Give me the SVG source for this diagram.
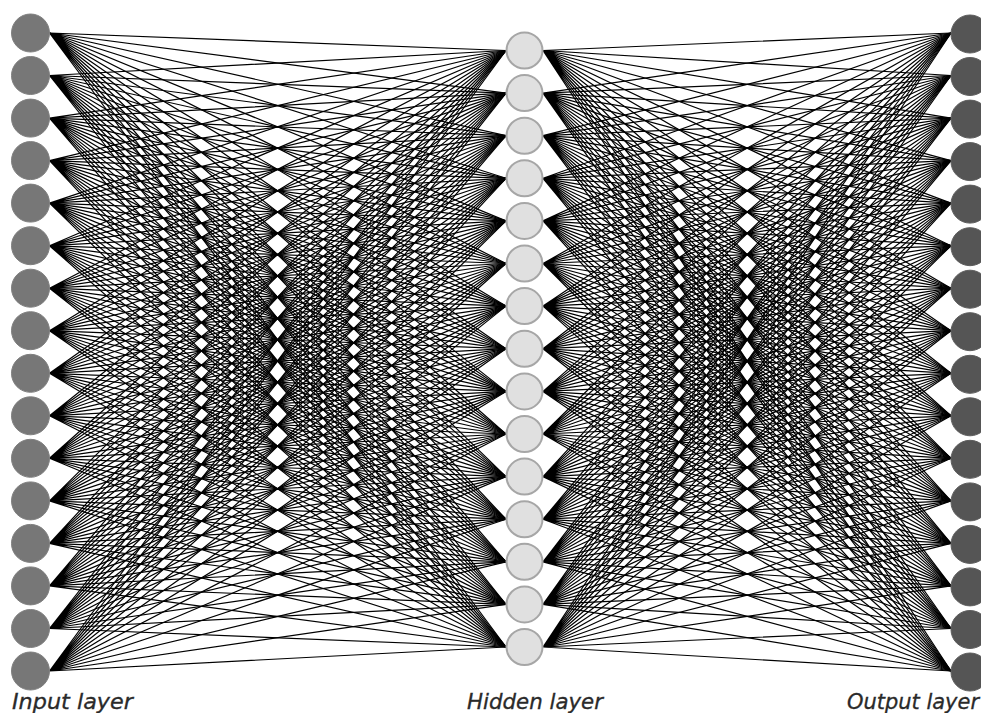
<svg xmlns="http://www.w3.org/2000/svg" width="981" height="713" viewBox="0 0 981 713">
<style>
.e{fill:none;stroke:#000;stroke-width:1.2}
.in{fill:#777;stroke:#808080;stroke-width:1}
.hid{fill:#e0e0e0;stroke:#a6a6a6;stroke-width:2}
.out{fill:#555;stroke:#5e5e5e;stroke-width:1}
.lbl{font-family:"DejaVu Sans","Liberation Sans",sans-serif;font-style:italic;font-size:21px;fill:#2a2a2a;stroke:#2a2a2a;stroke-width:0.3}
</style>
<rect width="981" height="713" fill="#fff"/>
<g id="connectors">
<path class="e" d="M49.5 33L506 50.5M49.5 33L506 93.1M49.5 33L506 135.7M49.5 33L506 178.3M49.5 33L506 220.9M49.5 33L506 263.5M49.5 33L506 306.1M49.5 33L506 348.7M49.5 33L506 391.4M49.5 33L506 434M49.5 33L506 476.6M49.5 33L506 519.2M49.5 33L506 561.8M49.5 33L506 604.4M49.5 33L506 647"/>
<path class="e" d="M49.5 75.5L506 50.5M49.5 75.5L506 93.1M49.5 75.5L506 135.7M49.5 75.5L506 178.3M49.5 75.5L506 220.9M49.5 75.5L506 263.5M49.5 75.5L506 306.1M49.5 75.5L506 348.7M49.5 75.5L506 391.4M49.5 75.5L506 434M49.5 75.5L506 476.6M49.5 75.5L506 519.2M49.5 75.5L506 561.8M49.5 75.5L506 604.4M49.5 75.5L506 647"/>
<path class="e" d="M49.5 118.1L506 50.5M49.5 118.1L506 93.1M49.5 118.1L506 135.7M49.5 118.1L506 178.3M49.5 118.1L506 220.9M49.5 118.1L506 263.5M49.5 118.1L506 306.1M49.5 118.1L506 348.7M49.5 118.1L506 391.4M49.5 118.1L506 434M49.5 118.1L506 476.6M49.5 118.1L506 519.2M49.5 118.1L506 561.8M49.5 118.1L506 604.4M49.5 118.1L506 647"/>
<path class="e" d="M49.5 160.6L506 50.5M49.5 160.6L506 93.1M49.5 160.6L506 135.7M49.5 160.6L506 178.3M49.5 160.6L506 220.9M49.5 160.6L506 263.5M49.5 160.6L506 306.1M49.5 160.6L506 348.7M49.5 160.6L506 391.4M49.5 160.6L506 434M49.5 160.6L506 476.6M49.5 160.6L506 519.2M49.5 160.6L506 561.8M49.5 160.6L506 604.4M49.5 160.6L506 647"/>
<path class="e" d="M49.5 203.1L506 50.5M49.5 203.1L506 93.1M49.5 203.1L506 135.7M49.5 203.1L506 178.3M49.5 203.1L506 220.9M49.5 203.1L506 263.5M49.5 203.1L506 306.1M49.5 203.1L506 348.7M49.5 203.1L506 391.4M49.5 203.1L506 434M49.5 203.1L506 476.6M49.5 203.1L506 519.2M49.5 203.1L506 561.8M49.5 203.1L506 604.4M49.5 203.1L506 647"/>
<path class="e" d="M49.5 245.7L506 50.5M49.5 245.7L506 93.1M49.5 245.7L506 135.7M49.5 245.7L506 178.3M49.5 245.7L506 220.9M49.5 245.7L506 263.5M49.5 245.7L506 306.1M49.5 245.7L506 348.7M49.5 245.7L506 391.4M49.5 245.7L506 434M49.5 245.7L506 476.6M49.5 245.7L506 519.2M49.5 245.7L506 561.8M49.5 245.7L506 604.4M49.5 245.7L506 647"/>
<path class="e" d="M49.5 288.2L506 50.5M49.5 288.2L506 93.1M49.5 288.2L506 135.7M49.5 288.2L506 178.3M49.5 288.2L506 220.9M49.5 288.2L506 263.5M49.5 288.2L506 306.1M49.5 288.2L506 348.7M49.5 288.2L506 391.4M49.5 288.2L506 434M49.5 288.2L506 476.6M49.5 288.2L506 519.2M49.5 288.2L506 561.8M49.5 288.2L506 604.4M49.5 288.2L506 647"/>
<path class="e" d="M49.5 330.7L506 50.5M49.5 330.7L506 93.1M49.5 330.7L506 135.7M49.5 330.7L506 178.3M49.5 330.7L506 220.9M49.5 330.7L506 263.5M49.5 330.7L506 306.1M49.5 330.7L506 348.7M49.5 330.7L506 391.4M49.5 330.7L506 434M49.5 330.7L506 476.6M49.5 330.7L506 519.2M49.5 330.7L506 561.8M49.5 330.7L506 604.4M49.5 330.7L506 647"/>
<path class="e" d="M49.5 373.3L506 50.5M49.5 373.3L506 93.1M49.5 373.3L506 135.7M49.5 373.3L506 178.3M49.5 373.3L506 220.9M49.5 373.3L506 263.5M49.5 373.3L506 306.1M49.5 373.3L506 348.7M49.5 373.3L506 391.4M49.5 373.3L506 434M49.5 373.3L506 476.6M49.5 373.3L506 519.2M49.5 373.3L506 561.8M49.5 373.3L506 604.4M49.5 373.3L506 647"/>
<path class="e" d="M49.5 415.8L506 50.5M49.5 415.8L506 93.1M49.5 415.8L506 135.7M49.5 415.8L506 178.3M49.5 415.8L506 220.9M49.5 415.8L506 263.5M49.5 415.8L506 306.1M49.5 415.8L506 348.7M49.5 415.8L506 391.4M49.5 415.8L506 434M49.5 415.8L506 476.6M49.5 415.8L506 519.2M49.5 415.8L506 561.8M49.5 415.8L506 604.4M49.5 415.8L506 647"/>
<path class="e" d="M49.5 458.3L506 50.5M49.5 458.3L506 93.1M49.5 458.3L506 135.7M49.5 458.3L506 178.3M49.5 458.3L506 220.9M49.5 458.3L506 263.5M49.5 458.3L506 306.1M49.5 458.3L506 348.7M49.5 458.3L506 391.4M49.5 458.3L506 434M49.5 458.3L506 476.6M49.5 458.3L506 519.2M49.5 458.3L506 561.8M49.5 458.3L506 604.4M49.5 458.3L506 647"/>
<path class="e" d="M49.5 500.9L506 50.5M49.5 500.9L506 93.1M49.5 500.9L506 135.7M49.5 500.9L506 178.3M49.5 500.9L506 220.9M49.5 500.9L506 263.5M49.5 500.9L506 306.1M49.5 500.9L506 348.7M49.5 500.9L506 391.4M49.5 500.9L506 434M49.5 500.9L506 476.6M49.5 500.9L506 519.2M49.5 500.9L506 561.8M49.5 500.9L506 604.4M49.5 500.9L506 647"/>
<path class="e" d="M49.5 543.4L506 50.5M49.5 543.4L506 93.1M49.5 543.4L506 135.7M49.5 543.4L506 178.3M49.5 543.4L506 220.9M49.5 543.4L506 263.5M49.5 543.4L506 306.1M49.5 543.4L506 348.7M49.5 543.4L506 391.4M49.5 543.4L506 434M49.5 543.4L506 476.6M49.5 543.4L506 519.2M49.5 543.4L506 561.8M49.5 543.4L506 604.4M49.5 543.4L506 647"/>
<path class="e" d="M49.5 585.9L506 50.5M49.5 585.9L506 93.1M49.5 585.9L506 135.7M49.5 585.9L506 178.3M49.5 585.9L506 220.9M49.5 585.9L506 263.5M49.5 585.9L506 306.1M49.5 585.9L506 348.7M49.5 585.9L506 391.4M49.5 585.9L506 434M49.5 585.9L506 476.6M49.5 585.9L506 519.2M49.5 585.9L506 561.8M49.5 585.9L506 604.4M49.5 585.9L506 647"/>
<path class="e" d="M49.5 628.5L506 50.5M49.5 628.5L506 93.1M49.5 628.5L506 135.7M49.5 628.5L506 178.3M49.5 628.5L506 220.9M49.5 628.5L506 263.5M49.5 628.5L506 306.1M49.5 628.5L506 348.7M49.5 628.5L506 391.4M49.5 628.5L506 434M49.5 628.5L506 476.6M49.5 628.5L506 519.2M49.5 628.5L506 561.8M49.5 628.5L506 604.4M49.5 628.5L506 647"/>
<path class="e" d="M49.5 671L506 50.5M49.5 671L506 93.1M49.5 671L506 135.7M49.5 671L506 178.3M49.5 671L506 220.9M49.5 671L506 263.5M49.5 671L506 306.1M49.5 671L506 348.7M49.5 671L506 391.4M49.5 671L506 434M49.5 671L506 476.6M49.5 671L506 519.2M49.5 671L506 561.8M49.5 671L506 604.4M49.5 671L506 647"/>
<path class="e" d="M543 50.5L951 33M543 50.5L951 75.5M543 50.5L951 118.1M543 50.5L951 160.6M543 50.5L951 203.1M543 50.5L951 245.7M543 50.5L951 288.2M543 50.5L951 330.7M543 50.5L951 373.3M543 50.5L951 415.8M543 50.5L951 458.3M543 50.5L951 500.9M543 50.5L951 543.4M543 50.5L951 585.9M543 50.5L951 628.5M543 50.5L951 671"/>
<path class="e" d="M543 93.1L951 33M543 93.1L951 75.5M543 93.1L951 118.1M543 93.1L951 160.6M543 93.1L951 203.1M543 93.1L951 245.7M543 93.1L951 288.2M543 93.1L951 330.7M543 93.1L951 373.3M543 93.1L951 415.8M543 93.1L951 458.3M543 93.1L951 500.9M543 93.1L951 543.4M543 93.1L951 585.9M543 93.1L951 628.5M543 93.1L951 671"/>
<path class="e" d="M543 135.7L951 33M543 135.7L951 75.5M543 135.7L951 118.1M543 135.7L951 160.6M543 135.7L951 203.1M543 135.7L951 245.7M543 135.7L951 288.2M543 135.7L951 330.7M543 135.7L951 373.3M543 135.7L951 415.8M543 135.7L951 458.3M543 135.7L951 500.9M543 135.7L951 543.4M543 135.7L951 585.9M543 135.7L951 628.5M543 135.7L951 671"/>
<path class="e" d="M543 178.3L951 33M543 178.3L951 75.5M543 178.3L951 118.1M543 178.3L951 160.6M543 178.3L951 203.1M543 178.3L951 245.7M543 178.3L951 288.2M543 178.3L951 330.7M543 178.3L951 373.3M543 178.3L951 415.8M543 178.3L951 458.3M543 178.3L951 500.9M543 178.3L951 543.4M543 178.3L951 585.9M543 178.3L951 628.5M543 178.3L951 671"/>
<path class="e" d="M543 220.9L951 33M543 220.9L951 75.5M543 220.9L951 118.1M543 220.9L951 160.6M543 220.9L951 203.1M543 220.9L951 245.7M543 220.9L951 288.2M543 220.9L951 330.7M543 220.9L951 373.3M543 220.9L951 415.8M543 220.9L951 458.3M543 220.9L951 500.9M543 220.9L951 543.4M543 220.9L951 585.9M543 220.9L951 628.5M543 220.9L951 671"/>
<path class="e" d="M543 263.5L951 33M543 263.5L951 75.5M543 263.5L951 118.1M543 263.5L951 160.6M543 263.5L951 203.1M543 263.5L951 245.7M543 263.5L951 288.2M543 263.5L951 330.7M543 263.5L951 373.3M543 263.5L951 415.8M543 263.5L951 458.3M543 263.5L951 500.9M543 263.5L951 543.4M543 263.5L951 585.9M543 263.5L951 628.5M543 263.5L951 671"/>
<path class="e" d="M543 306.1L951 33M543 306.1L951 75.5M543 306.1L951 118.1M543 306.1L951 160.6M543 306.1L951 203.1M543 306.1L951 245.7M543 306.1L951 288.2M543 306.1L951 330.7M543 306.1L951 373.3M543 306.1L951 415.8M543 306.1L951 458.3M543 306.1L951 500.9M543 306.1L951 543.4M543 306.1L951 585.9M543 306.1L951 628.5M543 306.1L951 671"/>
<path class="e" d="M543 348.7L951 33M543 348.7L951 75.5M543 348.7L951 118.1M543 348.7L951 160.6M543 348.7L951 203.1M543 348.7L951 245.7M543 348.7L951 288.2M543 348.7L951 330.7M543 348.7L951 373.3M543 348.7L951 415.8M543 348.7L951 458.3M543 348.7L951 500.9M543 348.7L951 543.4M543 348.7L951 585.9M543 348.7L951 628.5M543 348.7L951 671"/>
<path class="e" d="M543 391.4L951 33M543 391.4L951 75.5M543 391.4L951 118.1M543 391.4L951 160.6M543 391.4L951 203.1M543 391.4L951 245.7M543 391.4L951 288.2M543 391.4L951 330.7M543 391.4L951 373.3M543 391.4L951 415.8M543 391.4L951 458.3M543 391.4L951 500.9M543 391.4L951 543.4M543 391.4L951 585.9M543 391.4L951 628.5M543 391.4L951 671"/>
<path class="e" d="M543 434L951 33M543 434L951 75.5M543 434L951 118.1M543 434L951 160.6M543 434L951 203.1M543 434L951 245.7M543 434L951 288.2M543 434L951 330.7M543 434L951 373.3M543 434L951 415.8M543 434L951 458.3M543 434L951 500.9M543 434L951 543.4M543 434L951 585.9M543 434L951 628.5M543 434L951 671"/>
<path class="e" d="M543 476.6L951 33M543 476.6L951 75.5M543 476.6L951 118.1M543 476.6L951 160.6M543 476.6L951 203.1M543 476.6L951 245.7M543 476.6L951 288.2M543 476.6L951 330.7M543 476.6L951 373.3M543 476.6L951 415.8M543 476.6L951 458.3M543 476.6L951 500.9M543 476.6L951 543.4M543 476.6L951 585.9M543 476.6L951 628.5M543 476.6L951 671"/>
<path class="e" d="M543 519.2L951 33M543 519.2L951 75.5M543 519.2L951 118.1M543 519.2L951 160.6M543 519.2L951 203.1M543 519.2L951 245.7M543 519.2L951 288.2M543 519.2L951 330.7M543 519.2L951 373.3M543 519.2L951 415.8M543 519.2L951 458.3M543 519.2L951 500.9M543 519.2L951 543.4M543 519.2L951 585.9M543 519.2L951 628.5M543 519.2L951 671"/>
<path class="e" d="M543 561.8L951 33M543 561.8L951 75.5M543 561.8L951 118.1M543 561.8L951 160.6M543 561.8L951 203.1M543 561.8L951 245.7M543 561.8L951 288.2M543 561.8L951 330.7M543 561.8L951 373.3M543 561.8L951 415.8M543 561.8L951 458.3M543 561.8L951 500.9M543 561.8L951 543.4M543 561.8L951 585.9M543 561.8L951 628.5M543 561.8L951 671"/>
<path class="e" d="M543 604.4L951 33M543 604.4L951 75.5M543 604.4L951 118.1M543 604.4L951 160.6M543 604.4L951 203.1M543 604.4L951 245.7M543 604.4L951 288.2M543 604.4L951 330.7M543 604.4L951 373.3M543 604.4L951 415.8M543 604.4L951 458.3M543 604.4L951 500.9M543 604.4L951 543.4M543 604.4L951 585.9M543 604.4L951 628.5M543 604.4L951 671"/>
<path class="e" d="M543 647L951 33M543 647L951 75.5M543 647L951 118.1M543 647L951 160.6M543 647L951 203.1M543 647L951 245.7M543 647L951 288.2M543 647L951 330.7M543 647L951 373.3M543 647L951 415.8M543 647L951 458.3M543 647L951 500.9M543 647L951 543.4M543 647L951 585.9M543 647L951 628.5M543 647L951 671"/>
</g>
<g id="input-layer">
<g id="in1"><circle class="in" cx="30.5" cy="33" r="19"/></g>
<g id="in2"><circle class="in" cx="30.5" cy="75.5" r="19"/></g>
<g id="in3"><circle class="in" cx="30.5" cy="118.1" r="19"/></g>
<g id="in4"><circle class="in" cx="30.5" cy="160.6" r="19"/></g>
<g id="in5"><circle class="in" cx="30.5" cy="203.1" r="19"/></g>
<g id="in6"><circle class="in" cx="30.5" cy="245.7" r="19"/></g>
<g id="in7"><circle class="in" cx="30.5" cy="288.2" r="19"/></g>
<g id="in8"><circle class="in" cx="30.5" cy="330.7" r="19"/></g>
<g id="in9"><circle class="in" cx="30.5" cy="373.3" r="19"/></g>
<g id="in10"><circle class="in" cx="30.5" cy="415.8" r="19"/></g>
<g id="in11"><circle class="in" cx="30.5" cy="458.3" r="19"/></g>
<g id="in12"><circle class="in" cx="30.5" cy="500.9" r="19"/></g>
<g id="in13"><circle class="in" cx="30.5" cy="543.4" r="19"/></g>
<g id="in14"><circle class="in" cx="30.5" cy="585.9" r="19"/></g>
<g id="in15"><circle class="in" cx="30.5" cy="628.5" r="19"/></g>
<g id="in16"><circle class="in" cx="30.5" cy="671" r="19"/></g>
</g>
<g id="hidden-layer">
<g id="h1"><circle class="hid" cx="524.5" cy="50.5" r="18"/></g>
<g id="h2"><circle class="hid" cx="524.5" cy="93.1" r="18"/></g>
<g id="h3"><circle class="hid" cx="524.5" cy="135.7" r="18"/></g>
<g id="h4"><circle class="hid" cx="524.5" cy="178.3" r="18"/></g>
<g id="h5"><circle class="hid" cx="524.5" cy="220.9" r="18"/></g>
<g id="h6"><circle class="hid" cx="524.5" cy="263.5" r="18"/></g>
<g id="h7"><circle class="hid" cx="524.5" cy="306.1" r="18"/></g>
<g id="h8"><circle class="hid" cx="524.5" cy="348.7" r="18"/></g>
<g id="h9"><circle class="hid" cx="524.5" cy="391.4" r="18"/></g>
<g id="h10"><circle class="hid" cx="524.5" cy="434" r="18"/></g>
<g id="h11"><circle class="hid" cx="524.5" cy="476.6" r="18"/></g>
<g id="h12"><circle class="hid" cx="524.5" cy="519.2" r="18"/></g>
<g id="h13"><circle class="hid" cx="524.5" cy="561.8" r="18"/></g>
<g id="h14"><circle class="hid" cx="524.5" cy="604.4" r="18"/></g>
<g id="h15"><circle class="hid" cx="524.5" cy="647" r="18"/></g>
</g>
<g id="output-layer">
<g id="out1"><circle class="out" cx="970" cy="34" r="19"/></g>
<g id="out2"><circle class="out" cx="970" cy="76.5" r="19"/></g>
<g id="out3"><circle class="out" cx="970" cy="119.1" r="19"/></g>
<g id="out4"><circle class="out" cx="970" cy="161.6" r="19"/></g>
<g id="out5"><circle class="out" cx="970" cy="204.1" r="19"/></g>
<g id="out6"><circle class="out" cx="970" cy="246.7" r="19"/></g>
<g id="out7"><circle class="out" cx="970" cy="289.2" r="19"/></g>
<g id="out8"><circle class="out" cx="970" cy="331.7" r="19"/></g>
<g id="out9"><circle class="out" cx="970" cy="374.3" r="19"/></g>
<g id="out10"><circle class="out" cx="970" cy="416.8" r="19"/></g>
<g id="out11"><circle class="out" cx="970" cy="459.3" r="19"/></g>
<g id="out12"><circle class="out" cx="970" cy="501.9" r="19"/></g>
<g id="out13"><circle class="out" cx="970" cy="544.4" r="19"/></g>
<g id="out14"><circle class="out" cx="970" cy="586.9" r="19"/></g>
<g id="out15"><circle class="out" cx="970" cy="629.5" r="19"/></g>
<g id="out16"><circle class="out" cx="970" cy="672" r="19"/></g>
</g>
<g id="labels">
<text class="lbl" x="12" y="709" textLength="121" lengthAdjust="spacingAndGlyphs">Input layer</text>
<text class="lbl" x="467" y="709" textLength="136" lengthAdjust="spacingAndGlyphs">Hidden layer</text>
<text class="lbl" x="847" y="709" textLength="132" lengthAdjust="spacingAndGlyphs">Output layer</text>
</g>
</svg>
